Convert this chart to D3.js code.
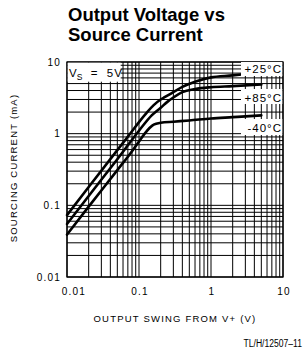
<!DOCTYPE html>
<html>
<head>
<meta charset="utf-8">
<script src="https://cdn.jsdelivr.net/npm/d3@7"></script>
<style>
  body { margin: 0; background: #fff; }
  svg { display: block; }
</style>
</head>
<body>
<div id="chart"></div>
<script>
// Output swing from V+ (V) vs sourcing current (mA)
var swing25 = [0.01, 0.02, 0.05, 0.08, 0.1, 0.13, 0.16, 0.2, 0.23, 0.3, 0.4, 0.6, 1, 2, 3];
var curr25  = [0.073, 0.18, 0.59, 1.08, 1.45, 2.0, 2.5, 3.0, 3.25, 3.8, 4.5, 5.3, 6.1, 6.5, 6.8];

var swing85 = [0.01, 0.02, 0.05, 0.1, 0.15, 0.2, 0.25, 0.3, 0.4, 0.6, 1, 2, 5];
var curr85  = [0.055, 0.135, 0.44, 1.1, 1.8, 2.3, 2.8, 3.2, 3.8, 4.2, 4.45, 4.6, 4.85];

var swingM40 = [0.01, 0.02, 0.05, 0.08, 0.1, 0.12, 0.14, 0.16, 0.2, 0.3, 0.5, 1, 2, 5];
var currM40  = [0.039, 0.096, 0.31, 0.57, 0.78, 1.0, 1.2, 1.34, 1.42, 1.47, 1.53, 1.63, 1.7, 1.8];

var xTicks = [0.01, 0.1, 1, 10];
var xTickLabels = ["0.01", "0.1", "1", "10"];
var yTicks = [0.01, 0.1, 1, 10];
var yTickLabels = ["0.01", "0.1", "1", "10"];

var series = [
  {name: "+25°C", x: swing25, y: curr25},
  {name: "+85°C", x: swing85, y: curr85},
  {name: "-40°C", x: swingM40, y: currM40}
];

var W = 307, H = 354;
var plot = {left: 67, right: 283, top: 62, bottom: 277};

var svg = d3.select("#chart").append("svg")
    .attr("width", W)
    .attr("height", H);

var x = d3.scaleLog().domain([0.01, 10]).range([plot.left, plot.right]);
var y = d3.scaleLog().domain([0.01, 10]).range([plot.bottom, plot.top]);

// title
var title = svg.append("text")
    .attr("font-family", "Liberation Sans, Arial, sans-serif")
    .attr("font-weight", "bold")
    .attr("font-size", 18.5)
    .attr("fill", "#000");
title.append("tspan").attr("x", 68).attr("y", 21).text("Output Voltage vs");
title.append("tspan").attr("x", 68).attr("y", 41).text("Source Current");

// log grid: lines at 1..9 of every decade
var gridVals = [];
[0.01, 0.1, 1].forEach(function(d) {
  for (var k = 1; k <= 9; k++) gridVals.push(d * k);
});
gridVals.push(10);

var grid = svg.append("g").attr("stroke", "#000").attr("stroke-width", 1);
grid.selectAll(".gx").data(gridVals).enter().append("line")
    .attr("x1", function(d) { return x(d); })
    .attr("x2", function(d) { return x(d); })
    .attr("y1", plot.top)
    .attr("y2", plot.bottom);
grid.selectAll(".gy").data(gridVals).enter().append("line")
    .attr("x1", plot.left)
    .attr("x2", plot.right)
    .attr("y1", function(d) { return y(d); })
    .attr("y2", function(d) { return y(d); });

svg.append("rect")
    .attr("x", plot.left).attr("y", plot.top)
    .attr("width", plot.right - plot.left)
    .attr("height", plot.bottom - plot.top)
    .attr("fill", "none")
    .attr("stroke", "#000")
    .attr("stroke-width", 1.3);

// curves
var line = d3.line()
    .x(function(d) { return x(d[0]); })
    .y(function(d) { return y(d[1]); })
    .curve(d3.curveMonotoneX);

svg.append("g").selectAll("path").data(series).enter().append("path")
    .attr("d", function(s) { return line(d3.zip(s.x, s.y)); })
    .attr("fill", "none")
    .attr("stroke", "#000")
    .attr("stroke-width", 2.6)
    .attr("stroke-linecap", "round");

var plotterFont = "Liberation Sans, Arial, sans-serif";

// curve labels with white boxes
var curveLabels = [
  {text: "+25°C", y: 73, top: 62, h: 14},
  {text: "+85°C", y: 102, top: 89, h: 15},
  {text: "-40°C", y: 132, top: 119, h: 16}
];
curveLabels.forEach(function(l) {
  svg.append("rect")
      .attr("x", 241).attr("y", l.top)
      .attr("width", plot.right - 241 - 0.7).attr("height", l.h)
      .attr("fill", "#fff");
  svg.append("text")
      .attr("x", 282).attr("y", l.y)
      .attr("text-anchor", "end")
      .attr("font-family", plotterFont)
      .attr("font-size", 11.5)
      .attr("letter-spacing", 1)
      .text(l.text);
});

// V_S = 5V box
svg.append("rect")
    .attr("x", plot.left + 0.7).attr("y", plot.top + 0.7)
    .attr("width", 53).attr("height", 19)
    .attr("fill", "#fff");
var vs = svg.append("text")
    .attr("x", 69).attr("y", 77)
    .attr("font-family", plotterFont)
    .attr("font-size", 11.5);
vs.append("tspan").text("V");
vs.append("tspan").attr("dy", 3).attr("font-size", 8.5).text("S");
vs.append("tspan").attr("dy", -3).attr("letter-spacing", 1).attr("xml:space", "preserve").text("  =  5V");

// y tick labels
svg.append("g").selectAll("text").data(yTicks).enter().append("text")
    .attr("x", 61)
    .attr("y", function(d) { return y(d) + 3.5; })
    .attr("text-anchor", "end")
    .attr("font-family", plotterFont)
    .attr("font-size", 10)
    .attr("letter-spacing", 1.2)
    .text(function(d, i) { return yTickLabels[i]; });

// x tick labels
svg.append("g").selectAll("text").data(xTicks).enter().append("text")
    .attr("x", function(d, i) { return i === 0 ? x(d) + 7 : x(d) + 1; })
    .attr("y", 295)
    .attr("text-anchor", "middle")
    .attr("font-family", plotterFont)
    .attr("font-size", 10)
    .attr("letter-spacing", 1.2)
    .text(function(d, i) { return xTickLabels[i]; });

// axis titles
svg.append("text")
    .attr("x", 175).attr("y", 322)
    .attr("text-anchor", "middle")
    .attr("font-family", plotterFont)
    .attr("font-size", 9.5)
    .attr("letter-spacing", 1.2)
    .text("OUTPUT SWING FROM V+ (V)");

svg.append("text")
    .attr("transform", "translate(17,168) rotate(-90)")
    .attr("text-anchor", "middle")
    .attr("font-family", plotterFont)
    .attr("font-size", 9.5)
    .attr("letter-spacing", 1.2)
    .text("SOURCING CURRENT (mA)");

// figure id
svg.append("text")
    .attr("transform", "translate(302,347) scale(0.78,1)")
    .attr("text-anchor", "end")
    .attr("font-family", plotterFont)
    .attr("font-size", 11)
    .text("TL/H/12507–11");
</script>
</body>
</html>
